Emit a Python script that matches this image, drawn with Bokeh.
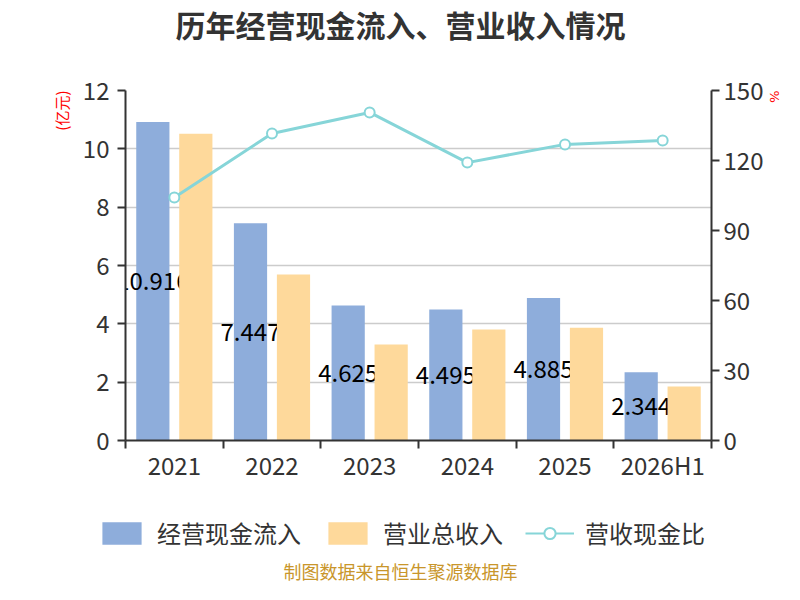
from bokeh.plotting import figure
from bokeh.layouts import column
from bokeh.models import Range1d, LinearAxis, FixedTicker, ColumnDataSource, Legend, LegendItem, Title, Label
from bokeh.core.properties import value
from bokeh.embed import file_html
from bokeh.resources import INLINE

categories = ["2021", "2022", "2023", "2024", "2025", "2026H1"]
cash_inflow = [10.916, 7.447, 4.625, 4.495, 4.885, 2.344]
revenue = [10.52, 5.69, 3.29, 3.81, 3.87, 1.85]
ratio = [104.1, 131.6, 140.6, 119.1, 126.9, 128.6]
left_ticks = [0, 2, 4, 6, 8, 10, 12]
right_ticks = [0, 30, 60, 90, 120, 150]
series_names = ["经营现金流入", "营业总收入", "营收现金比"]
chart_title = "历年经营现金流入、营业收入情况"
source_note = "制图数据来自恒生聚源数据库"

FONT = "Noto Sans CJK SC"
BLUE = "#8eaddb"
ORANGE = "#fed99b"
TEAL = "#86d5d8"
DARK = "#333333"
W = 784

x_center = [i + 0.5 for i in range(len(categories))]
src = ColumnDataSource(dict(
    xc=x_center,
    xb=[x - 0.22 for x in x_center],
    xo=[x + 0.22 for x in x_center],
    cash=cash_inflow,
    half=[v / 2 for v in cash_inflow],
    lbl=[f"{v:.3f}" for v in cash_inflow],
    rev=revenue,
    ratio=ratio,
))


def blank_fig(h):
    f = figure(width=W, height=h, output_backend="svg", toolbar_location=None,
               x_range=Range1d(0, W), y_range=Range1d(0, h),
               x_axis_location=None, y_axis_location=None, min_border=0)
    f.frame_align = False
    f.outline_line_color = None
    f.xgrid.visible = False
    f.ygrid.visible = False
    f.border_fill_color = "white"
    f.background_fill_color = "white"
    return f


# ---------- title strip ----------
top = blank_fig(50)
top.add_layout(Label(x=400, y=27, text=chart_title, text_align="center", text_baseline="middle",
                     text_font=FONT, text_font_size="30px", text_font_style="bold", text_color=DARK))

# ---------- main chart ----------
p = figure(width=W, height=450, output_backend="svg", toolbar_location=None,
           x_range=Range1d(0, len(categories)), y_range=Range1d(0, 12),
           min_border_left=125, min_border_right=73, min_border_top=40, min_border_bottom=60)
p.extra_y_ranges = {"pct": Range1d(0, 150)}
p.outline_line_color = None
p.background_fill_color = "white"
p.border_fill_color = "white"
p.xgrid.visible = False
p.ygrid.grid_line_color = "#cccccc"
p.ygrid.grid_line_width = 1.5

p.yaxis.ticker = FixedTicker(ticks=left_ticks)
p.xaxis.ticker = FixedTicker(ticks=x_center, minor_ticks=list(range(len(categories) + 1)))
p.xaxis.major_label_overrides = {x: c for x, c in zip(x_center, categories)}

right_axis = LinearAxis(y_range_name="pct", ticker=FixedTicker(ticks=right_ticks))
p.add_layout(right_axis, "right")

for ax in [p.xaxis[0], p.yaxis[0], right_axis]:
    ax.axis_line_color = DARK
    ax.axis_line_width = 2
    ax.major_tick_line_color = DARK
    ax.major_tick_line_width = 2
    ax.major_tick_in = 0
    ax.major_tick_out = 8
    ax.minor_tick_in = 0
    ax.minor_tick_out = 0
    ax.major_label_text_font = FONT
    ax.major_label_text_font_size = "24px"
    ax.major_label_text_color = DARK
    ax.major_label_standoff = 8

right_axis.major_label_standoff = 4
p.xaxis.major_tick_out = 0
p.xaxis.minor_tick_out = 8
p.xaxis.minor_tick_line_color = DARK
p.xaxis.minor_tick_line_width = 2
p.xaxis.major_label_standoff = -2

p.add_layout(Title(text="(亿元)", align="right", standoff=15, text_font=FONT, text_font_size="15px",
                   text_font_style="normal", text_color="red"), "left")
p.add_layout(Title(text="%", align="left", standoff=0, text_font="DejaVu Sans", text_font_size="13px",
                   text_font_style="normal", text_color="red"), "right")

p.vbar(x="xb", top="cash", width=0.34, source=src, fill_color=BLUE, line_color=None)
p.text(x="xb", y="half", text="lbl", source=src, text_align="center", text_baseline="middle",
       text_font=value(FONT), text_font_size="24px", text_color="black")
p.vbar(x="xo", top="rev", width=0.34, source=src, fill_color=ORANGE, line_color=None)
p.line(x="xc", y="ratio", source=src, y_range_name="pct", line_color=TEAL, line_width=3)
p.scatter(x="xc", y="ratio", source=src, y_range_name="pct", size=10, marker="circle",
          fill_color="white", line_color=TEAL, line_width=2)

# ---------- legend + source strip ----------
bot = blank_fig(84)
# legend key renderers: same series, drawn on a range far outside this strip's view
bot.extra_y_ranges = {"key": Range1d(10000, 10001)}
lb = bot.vbar(x="xb", top="cash", width=0.34, source=src, y_range_name="key",
              fill_color=BLUE, line_color=None)
lo = bot.vbar(x="xo", top="rev", width=0.34, source=src, y_range_name="key",
              fill_color=ORANGE, line_color=None)
ll = bot.line(x="xc", y="ratio", source=src, y_range_name="key", line_color=TEAL, line_width=2)
lp = bot.scatter(x="xc", y="ratio", source=src, y_range_name="key", size=10, marker="circle",
                 fill_color="white", line_color=TEAL, line_width=2)
legend = Legend(items=[
    LegendItem(label=series_names[0], renderers=[lb]),
    LegendItem(label=series_names[1], renderers=[lo]),
    LegendItem(label=series_names[2], renderers=[ll, lp]),
], location=(97, 34), orientation="horizontal", padding=0, margin=0,
    glyph_width=49, glyph_height=28, label_height=28, label_standoff=11, spacing=22,
    border_line_color=None, background_fill_alpha=0,
    label_text_font=FONT, label_text_font_size="24px", label_text_color=DARK)
bot.add_layout(legend, "center")
bot.add_layout(Label(x=400, y=14, text=source_note, text_align="center", text_baseline="middle",
                     text_font=FONT, text_font_size="18px", text_color="#c9962b"))

layout = column(top, p, bot, spacing=0)
open("out.html", "w").write(file_html(layout, INLINE))
